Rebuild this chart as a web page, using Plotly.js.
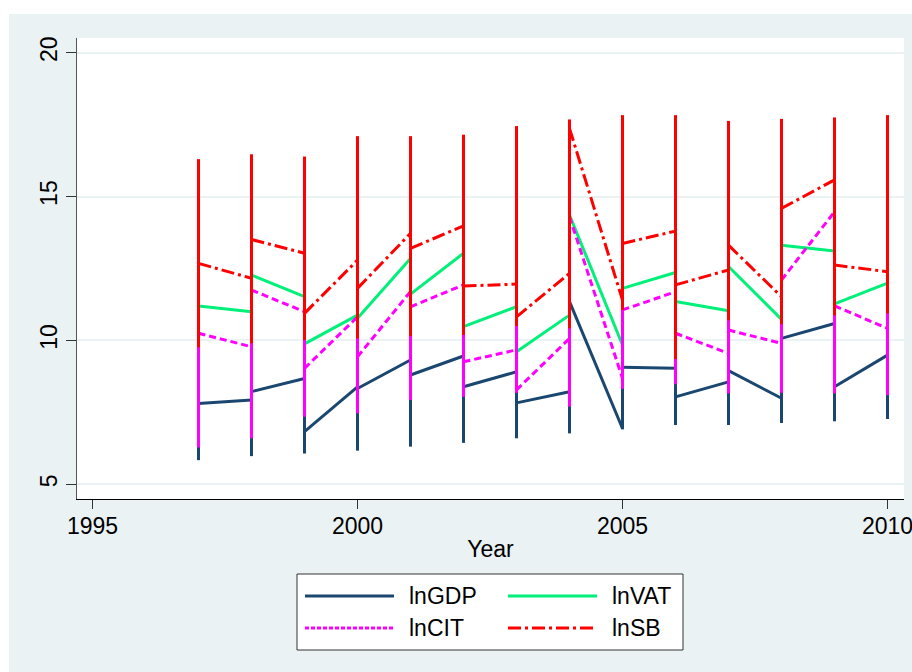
<!DOCTYPE html>
<html><head><meta charset="utf-8">
<script src="https://cdn.plot.ly/plotly-3.0.1.min.js"></script>
<style>html,body{margin:0;padding:0;background:#fff}#chart{width:912px;height:672px}</style>
</head><body><div id="chart"></div>
<script>
// Panel data drawn in sort order: at each year the line runs through all provinces
// (vertical stroke from lowest to highest value), then jumps to the next year.
const years = [1997,1998,1999,2000,2001,2002,2003,2004,2005,2006,2007,2008,2009,2010];
const seriesNames = ['lnGDP','lnVAT','lnCIT','lnSB'];
const xTicks = [1995,2000,2005,2010];
const yTicks = [5,10,15,20];

// per year: [first value of the year, lowest, highest, last value of the year]
const lnGDP = [
  [7.81,5.84,10.5,7.81],[7.93,5.98,10.6,8.22],[8.68,6.07,10.7,6.83],[8.39,6.17,10.8,8.33],
  [9.32,6.31,10.9,8.80],[9.46,6.44,11.0,8.39],[8.91,6.60,11.1,7.83],[8.22,6.77,11.35,11.35],
  [6.94,6.91,11.3,9.07],[9.03,7.06,11.4,8.04],[8.56,7.06,11.5,8.95],[7.99,7.13,11.5,10.07],
  [10.59,7.19,11.6,8.39],[9.49,7.27,11.7,9.49]
];
const lnVAT = [
  [11.20,6.8,14.8,11.20],[11.00,7.1,14.8,12.27],[11.52,7.85,14.8,9.88],[10.88,8.0,14.8,10.77],
  [12.85,8.4,14.8,11.61],[13.03,8.5,14.8,10.48],[11.17,8.7,14.8,9.61],[10.88,8.2,14.8,14.36],
  [9.84,8.8,14.8,11.81],[12.36,9.0,14.8,11.35],[11.03,8.7,14.8,12.57],[10.73,8.7,14.8,13.31],
  [13.11,8.7,14.8,11.27],[11.99,8.6,14.8,11.99]
];
const lnCIT = [
  [10.25,6.28,14.8,10.25],[9.78,6.60,14.8,11.75],[11.00,7.35,14.8,9.03],[10.82,7.47,14.8,9.43],
  [11.70,7.93,14.8,11.17],[11.93,8.04,14.8,9.26],[9.67,8.18,14.8,8.28],[10.07,7.70,14.8,14.30],
  [8.68,8.32,14.8,11.06],[11.69,8.48,14.8,10.25],[9.55,8.16,14.8,10.36],[9.90,8.18,14.8,12.10],
  [14.47,8.16,14.8,11.20],[10.42,8.10,14.8,10.42]
];
const lnSB = [
  [12.68,9.76,16.30,12.68],[12.16,9.90,16.47,13.51],[13.03,10.01,16.39,10.94],[12.79,10.07,17.10,11.81],
  [13.72,10.15,17.10,13.20],[13.98,10.19,17.15,11.89],[11.96,10.50,17.45,10.82],[12.33,10.42,17.68,17.37],
  [11.40,11.06,17.83,13.37],[13.80,9.35,17.83,11.93],[12.45,10.70,17.63,13.31],[11.52,10.56,17.70,14.59],
  [15.58,10.87,17.75,12.62],[12.39,10.94,17.83,12.39]
];

const colors = ['#1A476F','#00F07A','#FF00FF','#FF0000'];
const dashes = ['solid','solid','7px,4px','13px,4px,3px,4px'];
const allSeries = [lnGDP,lnVAT,lnCIT,lnSB];

const traces = [];
allSeries.forEach((rows, s) => {
  const vx = [], vy = [], dx = [], dy = [];
  rows.forEach((r, i) => {
    vx.push(years[i], years[i], null); vy.push(r[1], r[2], null);
    if (i < rows.length - 1) {
      dx.push(years[i], years[i+1], null); dy.push(r[3], rows[i+1][0], null);
    }
  });
  traces.push({x: vx, y: vy, type: 'scatter', mode: 'lines', name: seriesNames[s],
    line: {color: colors[s], width: 3}, showlegend: false, hoverinfo: 'skip'});
  traces.push({x: dx, y: dy, type: 'scatter', mode: 'lines', name: seriesNames[s],
    line: {color: colors[s], width: 3, dash: dashes[s]}, showlegend: false, hoverinfo: 'skip'});
});

// layout geometry (pixels)
const W = 912, H = 672, L = 77, R = 8, T = 38, B = 173;
const pw = W - L - R, ph = H - T - B;
const px = v => (v - L) / pw;
const py = v => (H - B - v) / ph;
// 53 px per year, years centred on half pixels so strokes are crisp
const pxPerYear = 53;
const x0 = 1995 - 15.5 / pxPerYear;
const x1 = x0 + pw / pxPerYear;

const FONT = 'Liberation Sans, Arial, sans-serif';
const shapes = [
  {type:'rect', xref:'paper', yref:'paper', x0:px(0), x1:px(W), y0:py(0), y1:py(14), fillcolor:'#ffffff', line:{width:0}, layer:'below'},
  {type:'rect', xref:'paper', yref:'paper', x0:px(0), x1:px(9), y0:py(H), y1:py(0), fillcolor:'#ffffff', line:{width:0}, layer:'below'},
  {type:'rect', xref:'paper', yref:'paper', x0:px(297), x1:px(683), y0:py(650), y1:py(574), fillcolor:'#ffffff', line:{color:'#333333', width:1}, layer:'above'}
];
const annotations = [];
const legPos = [[305,596],[508,596],[305,628],[508,628]];
seriesNames.forEach((n, s) => {
  const [lx, ly] = legPos[s];
  shapes.push({type:'line', xref:'paper', yref:'paper', x0:px(lx), x1:px(lx+89), y0:py(ly), y1:py(ly),
    line:{color: colors[s], width: 3, dash: dashes[s] === '7px,4px' ? '4px,2px' : dashes[s]}, layer:'above'});
  annotations.push({xref:'paper', yref:'paper', x:px(lx+102), y:py(ly), text:n, showarrow:false,
    xanchor:'left', yanchor:'middle', font:{family:FONT, size:23, color:'#000'}});
});

const layout = {
  width: W, height: H,
  margin: {l: L, r: R, t: T, b: B, pad: 0},
  paper_bgcolor: '#EAF2F3', plot_bgcolor: '#ffffff',
  font: {family: FONT, size: 23, color: '#000'},
  showlegend: false,
  xaxis: {
    range: [x0, x1], tickmode: 'array', tickvals: xTicks, ticktext: xTicks.map(String),
    ticks: 'outside', ticklen: 9, tickwidth: 1, tickcolor: '#333', ticklabeloverflow: 'allow',
    ticklabelstandoff: -3,
    showline: true, linecolor: '#000', linewidth: 1, showgrid: false, zeroline: false,
    tickfont: {family: FONT, size: 23, color: '#000'},
    title: {text: 'Year', font: {family: FONT, size: 23, color: '#000'}, standoff: 3}
  },
  yaxis: {
    range: [4.49, 20.51], tickmode: 'array', tickvals: yTicks, ticktext: yTicks.map(String),
    ticks: 'outside', ticklen: 10, tickwidth: 1, tickcolor: '#333', tickangle: -90,
    showline: true, linecolor: '#555', linewidth: 1, showgrid: true, gridcolor: '#EAF2F3', gridwidth: 2,
    zeroline: false, tickfont: {family: FONT, size: 23, color: '#000'}
  },
  shapes: shapes, annotations: annotations
};
Plotly.newPlot('chart', traces, layout, {staticPlot: true, displayModeBar: false});
</script></body></html>
